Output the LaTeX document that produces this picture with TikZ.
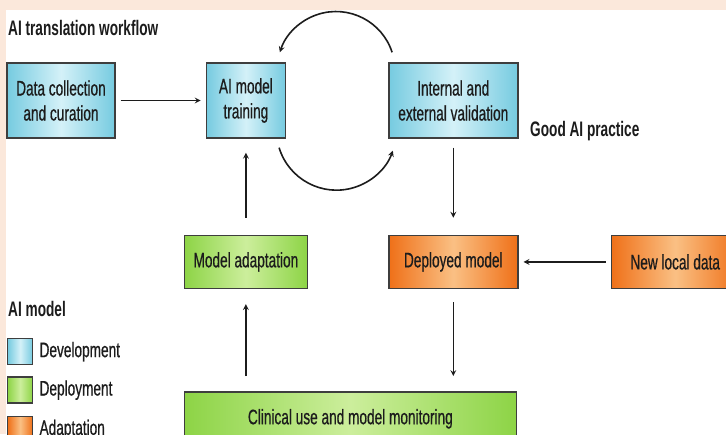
\documentclass[tikz,border=0pt]{standalone}
\usepackage{fontspec}
\setmainfont{Liberation Sans}[FakeStretch=0.65]
\newfontfamily\boxfont{Liberation Sans}[FakeStretch=0.65, FakeBold=0.6]
\usetikzlibrary{positioning, arrows}

\definecolor{peach}{RGB}{251,232,219}
\definecolor{ink}{RGB}{28,28,28}
\definecolor{rim}{RGB}{62,62,62}
\definecolor{bluedark}{RGB}{118,203,224}
\definecolor{bluelight}{RGB}{212,241,248}
\definecolor{greendark}{RGB}{141,212,70}
\definecolor{greenlight}{RGB}{204,238,156}
\definecolor{orangedark}{RGB}{239,112,24}
\definecolor{orangelight}{RGB}{250,192,132}

\begin{document}
\begin{tikzpicture}[x=1pt, y=1pt, >=stealth,
    box/.style={rectangle, draw=rim, line width=1.4pt, inner sep=0pt,
      align=center, text=ink, font=\boxfont\fontsize{21}{25}\selectfont},
    dev/.style={box, left color=bluedark, right color=bluedark, middle color=bluelight},
    dep/.style={box, left color=greendark, right color=greendark, middle color=greenlight},
    ada/.style={box, left color=orangedark, right color=orangedark, middle color=orangelight},
    head/.style={inner sep=0pt, text=ink, font=\fontsize{21}{25}\selectfont\bfseries},
    key/.style={inner sep=0pt, text=ink, font=\boxfont\fontsize{21}{25}\selectfont},
    link/.style={->, line width=1.6pt, draw=ink}]

  \fill[peach] (0,0) rectangle (726,-434);
  \fill[white] (6,-10) rectangle (726,-434);
  \useasboundingbox (0,0) rectangle (726,-434);

  \node[head, anchor=base west] (H) at (8,-35) {AI translation workflow};

  \node[dev, minimum width=108pt, minimum height=75pt] (D) at (61,-100.5) {Data collection\\and curation};
  \node[dev, minimum width=79pt, minimum height=75pt, right=90pt of D] (T) {AI model\\training};
  \node[dev, minimum width=129pt, minimum height=75pt, right=102pt of T] (V) {Internal and\\external validation};
  \node[head, anchor=base west] (G) at (530,-136) {Good AI practice};

  \node[dep, minimum width=123pt, minimum height=53pt, below=96pt of T] (M) {Model adaptation};
  \node[ada, minimum width=129pt, minimum height=53pt, below=96pt of V] (P) {Deployed model};
  \node[ada, minimum width=128pt, minimum height=53pt, right=92pt of P] (N) {New local data};
  \node[dep, minimum width=332pt, minimum height=54pt,
    below right=102pt and 0pt of M.south west] (C) {Clinical use and model monitoring};

  \draw[link, shorten <=5pt, shorten >=5pt] (D) -- (T);
  \draw[link, shorten <=9pt, shorten >=17pt] (V) -- (P);
  \draw[link, shorten <=5pt, shorten >=5pt] (N) -- (P);
  \draw[link, shorten <=13pt, shorten >=15pt] (P) -- (P |- C.north);
  \draw[link, shorten <=15pt, shorten >=15pt] (M |- C.north) -- (M);
  \draw[link, shorten <=17pt, shorten >=14pt] (M) -- (T);
  \draw[link] ([shift={(4,10)}]V.north west) arc[start angle=18, end angle=162, radius=59];
  \draw[link] ([shift={(-7,-9)}]T.south east) arc[start angle=197, end angle=340, radius=60];

  \node[head, anchor=base west] (L) at (8,-316) {AI model};
  \node[dev, minimum width=25pt, minimum height=26pt, anchor=north west] (L1) at (7,-338) {};
  \node[dep, minimum width=25pt, minimum height=26pt, below=11pt of L1] (L2) {};
  \node[ada, minimum width=25pt, minimum height=26pt, below=12pt of L2] (L3) {};
  \node[key, right=6pt of L1] (K1) {Development};
  \node[key, right=6pt of L2] (K2) {Deployment};
  \node[key, right=6pt of L3] (K3) {Adaptation};
\end{tikzpicture}
\end{document}
